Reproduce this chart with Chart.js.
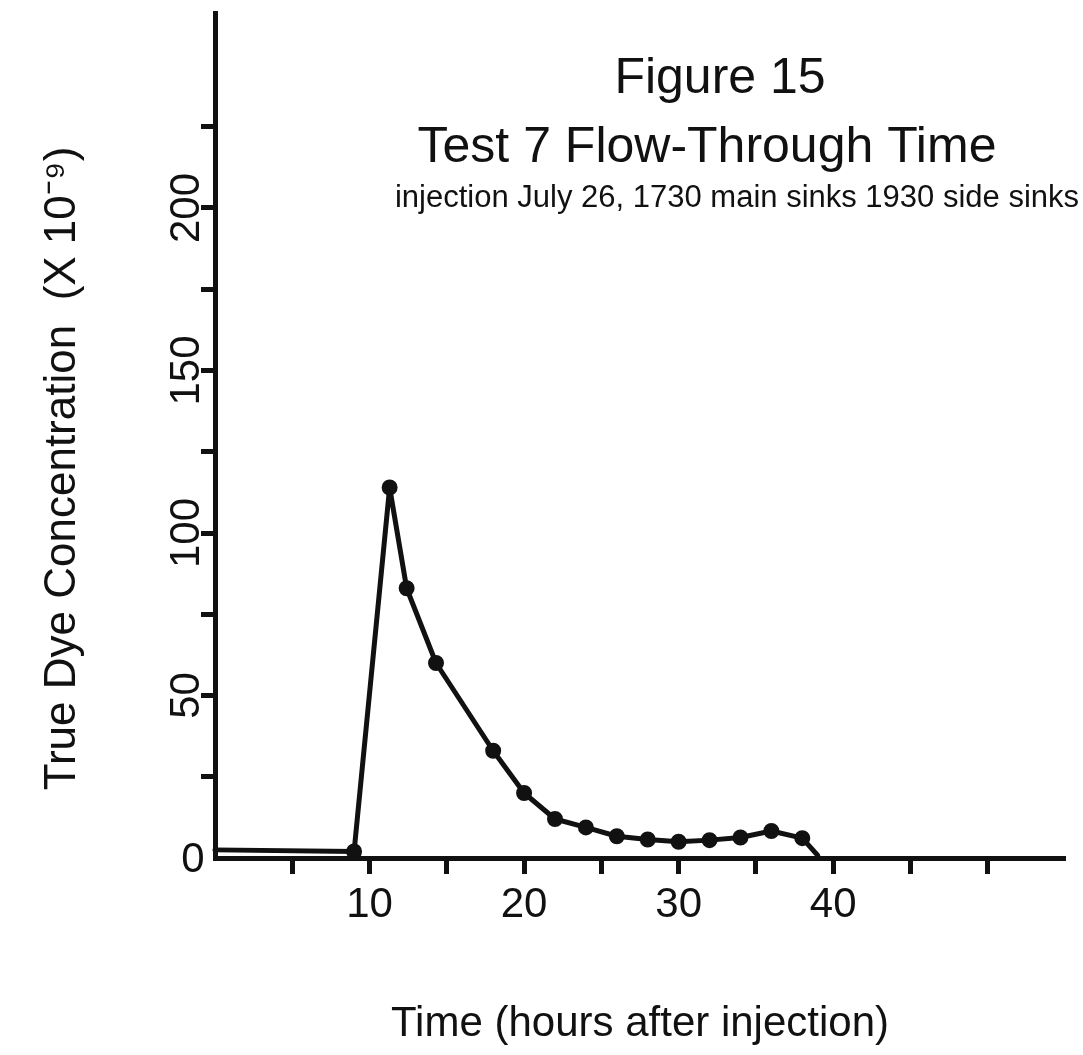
<!DOCTYPE html>
<html>
<head>
<meta charset="utf-8">
<script src="https://cdn.jsdelivr.net/npm/chart.js@4.4.1/dist/chart.umd.min.js"></script>
<style>
  html, body { margin: 0; padding: 0; background: #ffffff; }
  #wrap { width: 1083px; height: 1055px; }
</style>
</head>
<body>
<div id="wrap"><canvas id="chart" width="1083" height="1055"></canvas></div>
<script>
// Sampling times (hours after injection) and measured dye concentration (x 10^-9)
const hours = [0, 9, 11.3, 12.4, 14.3, 18, 20, 22, 24, 26, 28, 30, 32, 34, 36, 38, 39];
const dye   = [2.5, 2, 114, 83, 60, 33, 20, 12, 9.4, 6.7, 5.7, 5, 5.5, 6.3, 8.3, 6.1, 0.8];

// Axis tick marks and the labels printed beside them
const xTickValues = [5, 10, 15, 20, 25, 30, 35, 40, 45, 50];
const xTickLabels = { 10: '10', 20: '20', 30: '30', 40: '40' };
const yTickValues = [25, 50, 75, 100, 125, 150, 175, 200, 225];
const yTickLabels = { 50: '50', 100: '100', 150: '150', 200: '200' };
const originLabel = '0';

// Heading lines
const headingLines = [
  'Figure 15',
  'Test 7 Flow-Through Time',
  'injection July 26, 1730 main sinks 1930 side sinks'
];
const xAxisTitle = 'Time (hours after injection)';
// trailing en spaces keep the rotated caption a little lower on the axis
const yAxisTitle = 'True Dye Concentration  (X 10\u207B\u2079)\u2002\u2002\u2002';

const FONT = "'Liberation Sans', Arial, sans-serif";
const INK = '#111111';

// Draws the heading block inside the plot and the upright origin label
const headingPlugin = {
  id: 'heading',
  afterDraw(chart) {
    const ctx = chart.ctx;
    const y = chart.scales.y;
    ctx.save();
    ctx.fillStyle = INK;
    ctx.textAlign = 'center';
    ctx.textBaseline = 'alphabetic';
    ctx.font = `50px ${FONT}`;
    ctx.fillText(headingLines[0], 720, 93);
    ctx.fillText(headingLines[1], 707, 162);
    ctx.font = `31px ${FONT}`;
    ctx.fillText(headingLines[2], 737, 207);
    ctx.font = `42px ${FONT}`;
    ctx.textBaseline = 'middle';
    ctx.fillText(originLabel, 193, y.getPixelForValue(0) + 2);
    ctx.restore();
  }
};

new Chart(document.getElementById('chart'), {
  type: 'line',
  data: {
    datasets: [{
      data: hours.map((h, i) => ({ x: h, y: dye[i] })),
      borderColor: INK,
      borderWidth: 5,
      borderJoinStyle: 'round',
      borderCapStyle: 'round',
      backgroundColor: INK,
      pointBackgroundColor: INK,
      pointBorderColor: INK,
      pointRadius: ctx => (ctx.dataIndex === 0 || ctx.dataIndex === hours.length - 1) ? 0 : 5.5,
      tension: 0,
      fill: false,
      clip: false
    }]
  },
  options: {
    responsive: false,
    animation: false,
    layout: { padding: { top: 13, right: 18, left: 0, bottom: 0 } },
    plugins: {
      legend: { display: false },
      tooltip: { enabled: false },
      title: { display: false }
    },
    scales: {
      x: {
        type: 'linear',
        min: 0,
        max: 55,
        afterBuildTicks: s => { s.ticks = xTickValues.map(v => ({ value: v })); },
        afterFit: s => { s.height = 197; },
        grid: { drawOnChartArea: false, drawTicks: true, tickLength: 16, tickWidth: 5, tickColor: INK, color: INK },
        border: { display: true, width: 5, color: INK },
        ticks: {
          autoSkip: false,
          maxRotation: 0,
          minRotation: 0,
          padding: 6,
          color: INK,
          font: { family: FONT, size: 42 },
          callback: v => xTickLabels[v] ?? ''
        },
        title: {
          display: true,
          text: xAxisTitle,
          color: INK,
          font: { family: FONT, size: 42 },
          padding: { top: 0, bottom: 5 }
        }
      },
      y: {
        type: 'linear',
        min: 0,
        max: 260,
        afterBuildTicks: s => { s.ticks = yTickValues.map(v => ({ value: v })); },
        afterFit: s => { s.width = 215; },
        grid: { drawOnChartArea: false, drawTicks: true, tickLength: 14, tickWidth: 5, tickColor: INK, color: INK },
        border: { display: true, width: 5, color: INK },
        ticks: {
          autoSkip: false,
          minRotation: 90,
          maxRotation: 90,
          crossAlign: 'center',
          padding: -21,
          color: INK,
          font: { family: FONT, size: 42 },
          callback: v => yTickLabels[v] ?? ''
        },
        title: {
          display: true,
          text: yAxisTitle,
          color: INK,
          font: { family: FONT, size: 44 },
          padding: { top: 36, bottom: 0 }
        }
      }
    }
  },
  plugins: [headingPlugin]
});
</script>
</body>
</html>
